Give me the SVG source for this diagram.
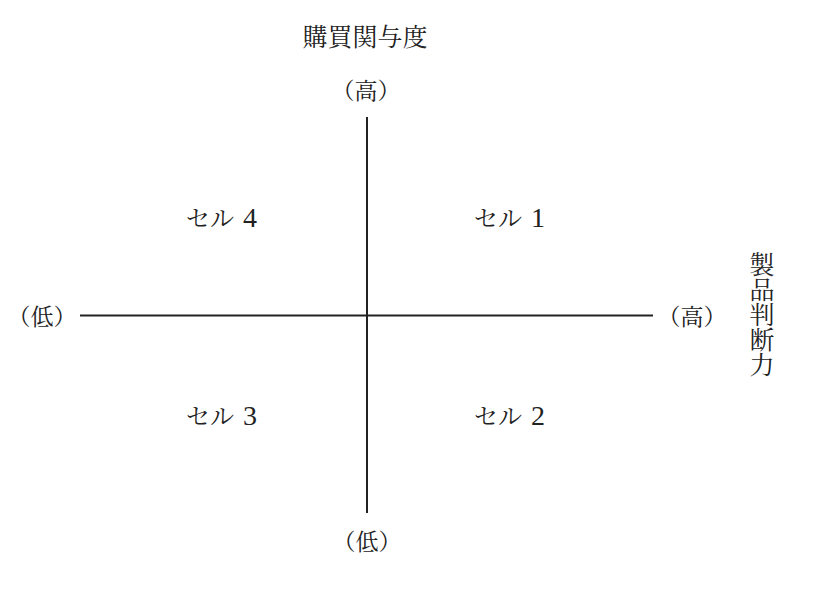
<svg xmlns="http://www.w3.org/2000/svg" width="816" height="606" viewBox="0 0 816 606">
<style>
text{font-family:"Noto Serif CJK JP","Noto Sans CJK JP",serif;fill:#222;}
.t{font-size:25px;}
.l{font-size:23px;text-anchor:middle;}
.c{font-size:24px;font-family:"Liberation Serif","Noto Serif CJK JP","Noto Sans CJK JP",serif;}
.d{font-size:28px;}
.v{font-size:25px;writing-mode:vertical-rl;}
.axis{stroke:#222;stroke-width:2;fill:none;}
</style>
<rect width="816" height="606" fill="#fff"/>
<g id="connectors">
<line class="axis" x1="367" y1="117" x2="367" y2="513"/>
<line class="axis" x1="80" y1="315.5" x2="653" y2="315.5"/>
</g>
<g id="title-y"><text class="t" x="365" y="46" text-anchor="middle">購買関与度</text></g>
<g id="y-high"><text class="l" x="366" y="99">（高）</text></g>
<g id="y-low"><text class="l" x="367" y="550">（低）</text></g>
<g id="x-low"><text class="l" x="42" y="325">（低）</text></g>
<g id="x-high"><text class="l" x="692" y="325">（高）</text></g>
<g id="title-x"><text class="v" x="762" y="252">製品判断力</text></g>
<g id="cell4"><text class="c" x="186" y="227">セル <tspan class="d" dx="3">4</tspan></text></g>
<g id="cell1"><text class="c" x="474" y="227">セル <tspan class="d" dx="3">1</tspan></text></g>
<g id="cell3"><text class="c" x="186" y="425">セル <tspan class="d" dx="3">3</tspan></text></g>
<g id="cell2"><text class="c" x="474" y="425">セル <tspan class="d" dx="3">2</tspan></text></g>
</svg>
